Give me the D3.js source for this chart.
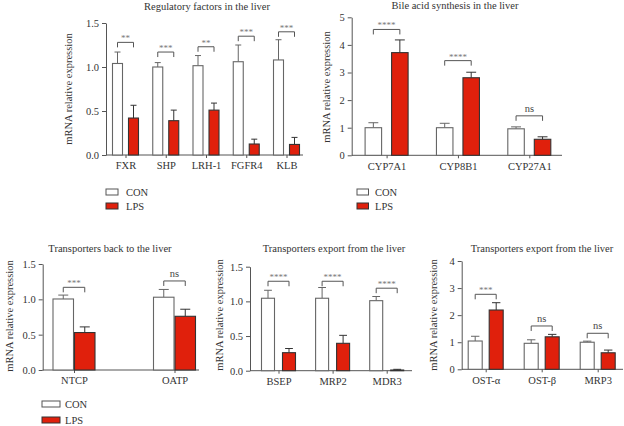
<!DOCTYPE html>
<html><head><meta charset="utf-8">
<script src="https://cdn.jsdelivr.net/npm/d3@7/dist/d3.min.js"></script>
<style>body{margin:0;background:#fff}svg{display:block}</style>
</head><body><svg id="c" width="624" height="426"></svg>
<script>
// ---- Data ----
const regCategories = ["FXR", "SHP", "LRH-1", "FGFR4", "KLB"];
const regCON = [1.04, 1.00, 1.015, 1.06, 1.08];
const regCONErr = [0.13, 0.05, 0.115, 0.19, 0.23];
const regLPS = [0.42, 0.39, 0.51, 0.125, 0.12];
const regLPSErr = [0.145, 0.12, 0.08, 0.055, 0.08];
const regSig = ["**", "***", "**", "***", "***"];
const regBracket = [1.28, 1.17, 1.23, 1.35, 1.40];

const bileCategories = ["CYP7A1", "CYP8B1", "CYP27A1"];
const bileCON = [1.0, 1.0, 0.96];
const bileCONErr = [0.18, 0.16, 0.07];
const bileLPS = [3.72, 2.81, 0.58];
const bileLPSErr = [0.46, 0.20, 0.09];
const bileSig = ["****", "****", "ns"];
const bileBracket = [4.56, 3.43, 1.43];

const backCategories = ["NTCP", "OATP"];
const backCON = [1.005, 1.03];
const backCONErr = [0.055, 0.11];
const backLPS = [0.53, 0.76];
const backLPSErr = [0.08, 0.10];
const backSig = ["***", "ns"];
const backBracket = [1.17, 1.26];

const exp1Categories = ["BSEP", "MRP2", "MDR3"];
const exp1CON = [1.045, 1.045, 1.01];
const exp1CONErr = [0.115, 0.155, 0.06];
const exp1LPS = [0.26, 0.395, 0.01];
const exp1LPSErr = [0.06, 0.115, 0.01];
const exp1Sig = ["****", "****", "****"];
const exp1Bracket = [1.29, 1.29, 1.19];

const exp2Categories = ["OST-\u03b1", "OST-\u03b2", "MRP3"];
const exp2CON = [1.045, 0.96, 1.0];
const exp2CONErr = [0.175, 0.13, 0.04];
const exp2LPS = [2.19, 1.2, 0.61];
const exp2LPSErr = [0.27, 0.09, 0.10];
const exp2Sig = ["***", "ns", "ns"];
const exp2Bracket = [2.77, 1.6, 1.33];

const groups = ["CON", "LPS"];
const yLabel = "mRNA relative expression";

// ---- Layout ----
const RED = "#e0200c";
const TXT = "#333";
const FONT = "'Liberation Serif', 'DejaVu Serif', serif";
const svg = d3.select("#c");

const panels = [
  {title: "Regulatory factors in the liver", cats: regCategories, con: regCON, conE: regCONErr, lps: regLPS, lpsE: regLPSErr, sig: regSig, br: regBracket,
   yMax: 1.5, ticks: [0, 0.5, 1, 1.5], fmt: d3.format(".1f"), y0: 155, y1: 23, ax0: 106, ax1: 303, c0: 125.5, c1: 286.5, bw: 10, gap: 6,
   tx: 207, ty: 10, lx: 72, ly: 89},
  {title: "Bile acid synthesis in the liver", cats: bileCategories, con: bileCON, conE: bileCONErr, lps: bileLPS, lpsE: bileLPSErr, sig: bileSig, br: bileBracket,
   yMax: 5, ticks: [0, 1, 2, 3, 4, 5], fmt: d3.format("d"), y0: 155.3, y1: 17.3, ax0: 351.7, ax1: 562, c0: 386.6, c1: 529.3, bw: 16.5, gap: 10,
   tx: 455, ty: 9, lx: 329.5, ly: 87},
  {title: "Transporters back to the liver", cats: backCategories, con: backCON, conE: backCONErr, lps: backLPS, lpsE: backLPSErr, sig: backSig, br: backBracket,
   yMax: 1.5, ticks: [0, 0.5, 1, 1.5], fmt: d3.format(".1f"), y0: 370, y1: 264, ax0: 42.7, ax1: 199, c0: 74, c1: 174.5, bw: 20.5, gap: 1,
   tx: 110, ty: 252, lx: 12.5, ly: 316},
  {title: "Transporters export from the liver", cats: exp1Categories, con: exp1CON, conE: exp1CONErr, lps: exp1LPS, lpsE: exp1LPSErr, sig: exp1Sig, br: exp1Bracket,
   yMax: 1.5, ticks: [0, 0.5, 1, 1.5], fmt: d3.format(".1f"), y0: 370.7, y1: 266.7, ax0: 250, ax1: 412, c0: 278.5, c1: 386.7, bw: 13, gap: 8,
   tx: 334, ty: 252, lx: 222.5, ly: 315},
  {title: "Transporters export from the liver", cats: exp2Categories, con: exp2CON, conE: exp2CONErr, lps: exp2LPS, lpsE: exp2LPSErr, sig: exp2Sig, br: exp2Bracket,
   yMax: 4, ticks: [0, 1, 2, 3, 4], fmt: d3.format("d"), y0: 369.3, y1: 261, ax0: 461.7, ax1: 623, c0: 485.7, c1: 597.7, bw: 14, gap: 7,
   tx: 542, ty: 252, lx: 437, ly: 315}
];

panels.forEach(p => {
  const g = svg.append("g");
  const y = d3.scaleLinear().domain([0, p.yMax]).range([p.y0, p.y1]);
  const x = d3.scalePoint().domain(p.cats).range([p.c0, p.c1]);
  const grp = d3.scaleOrdinal().domain(groups).range([-(p.gap / 2 + p.bw / 2), p.gap / 2 + p.bw / 2]);

  g.append("text").attr("x", p.tx).attr("y", p.ty).attr("text-anchor", "middle")
    .attr("font-family", FONT).attr("font-size", 10.5).attr("fill", TXT).text(p.title);
  g.append("text").attr("transform", `translate(${p.lx},${p.ly}) rotate(-90)`).attr("text-anchor", "middle")
    .attr("font-family", FONT).attr("font-size", 10.5).attr("fill", TXT).text(yLabel);

  const yAxis = d3.axisLeft(y).tickValues(p.ticks).tickFormat(p.fmt).tickSize(4).tickSizeOuter(0).tickPadding(3);
  const ya = g.append("g").attr("transform", `translate(${p.ax0},0)`).call(yAxis);
  ya.select(".domain").attr("stroke", "#555");
  ya.selectAll(".tick line").attr("stroke", "#555");
  ya.selectAll("text").attr("font-family", FONT).attr("font-size", 10.5).attr("fill", TXT);

  g.append("line").attr("x1", p.ax0).attr("x2", p.ax1).attr("y1", p.y0).attr("y2", p.y0).attr("stroke", "#555");
  const xa = g.append("g").attr("transform", `translate(0,${p.y0})`)
    .call(d3.axisBottom(x).tickSize(3).tickSizeOuter(0).tickPadding(4));
  xa.select(".domain").remove();
  xa.selectAll(".tick line").attr("stroke", "#555");
  xa.selectAll("text").attr("font-family", FONT).attr("font-size", 10.5).attr("fill", TXT);

  const rows = [];
  p.cats.forEach((c, i) => {
    rows.push({c, grp: "CON", v: p.con[i], e: p.conE[i]});
    rows.push({c, grp: "LPS", v: p.lps[i], e: p.lpsE[i]});
  });
  const capW = Math.min(p.bw * 0.6, 10);
  rows.forEach(r => {
    const cx = x(r.c) + grp(r.grp);
    const stroke = r.grp === "CON" ? "#666" : "#333";
    g.append("line").attr("x1", cx).attr("x2", cx).attr("y1", y(r.v)).attr("y2", y(r.v + r.e)).attr("stroke", stroke).attr("stroke-width", 1);
    g.append("line").attr("x1", cx - capW / 2).attr("x2", cx + capW / 2).attr("y1", y(r.v + r.e)).attr("y2", y(r.v + r.e)).attr("stroke", stroke).attr("stroke-width", 1);
    g.append("rect").attr("x", cx - p.bw / 2).attr("y", y(r.v)).attr("width", p.bw).attr("height", Math.max(0.5, y(0) - y(r.v)))
      .attr("fill", r.grp === "CON" ? "#fff" : RED).attr("stroke", stroke).attr("stroke-width", 1.1);
  });

  p.cats.forEach((c, i) => {
    const xa1 = x(c) + grp("CON"), xa2 = x(c) + grp("LPS");
    const yb = y(p.br[i]);
    g.append("path").attr("d", `M${xa1},${yb + 5}V${yb}H${xa2}V${yb + 5}`).attr("fill", "none").attr("stroke", "#555").attr("stroke-width", 1);
    const isNs = p.sig[i] === "ns";
    g.append("text").attr("x", (xa1 + xa2) / 2).attr("y", isNs ? yb - 4 : yb - 1).attr("text-anchor", "middle")
      .attr("font-family", FONT).attr("font-size", isNs ? 10.5 : 9).attr("fill", isNs ? "#444" : "#777").text(p.sig[i]);
  });
});

const legends = [
  {x: 106, y: 189, w: 12, h: 6, dy: 14, tx: 126},
  {x: 357, y: 189, w: 11.5, h: 6, dy: 14, tx: 375},
  {x: 42, y: 401, w: 18, h: 6, dy: 16, tx: 65}
];
legends.forEach(l => {
  groups.forEach((gname, i) => {
    svg.append("rect").attr("x", l.x).attr("y", l.y + i * l.dy).attr("width", l.w).attr("height", l.h)
      .attr("fill", gname === "CON" ? "#fff" : RED).attr("stroke", gname === "CON" ? "#555" : "#333").attr("stroke-width", 1);
    svg.append("text").attr("x", l.tx).attr("y", l.y + i * l.dy + l.h + 1).attr("font-family", FONT).attr("font-size", 10.5)
      .attr("fill", TXT).text(gname);
  });
});
</script></body></html>
